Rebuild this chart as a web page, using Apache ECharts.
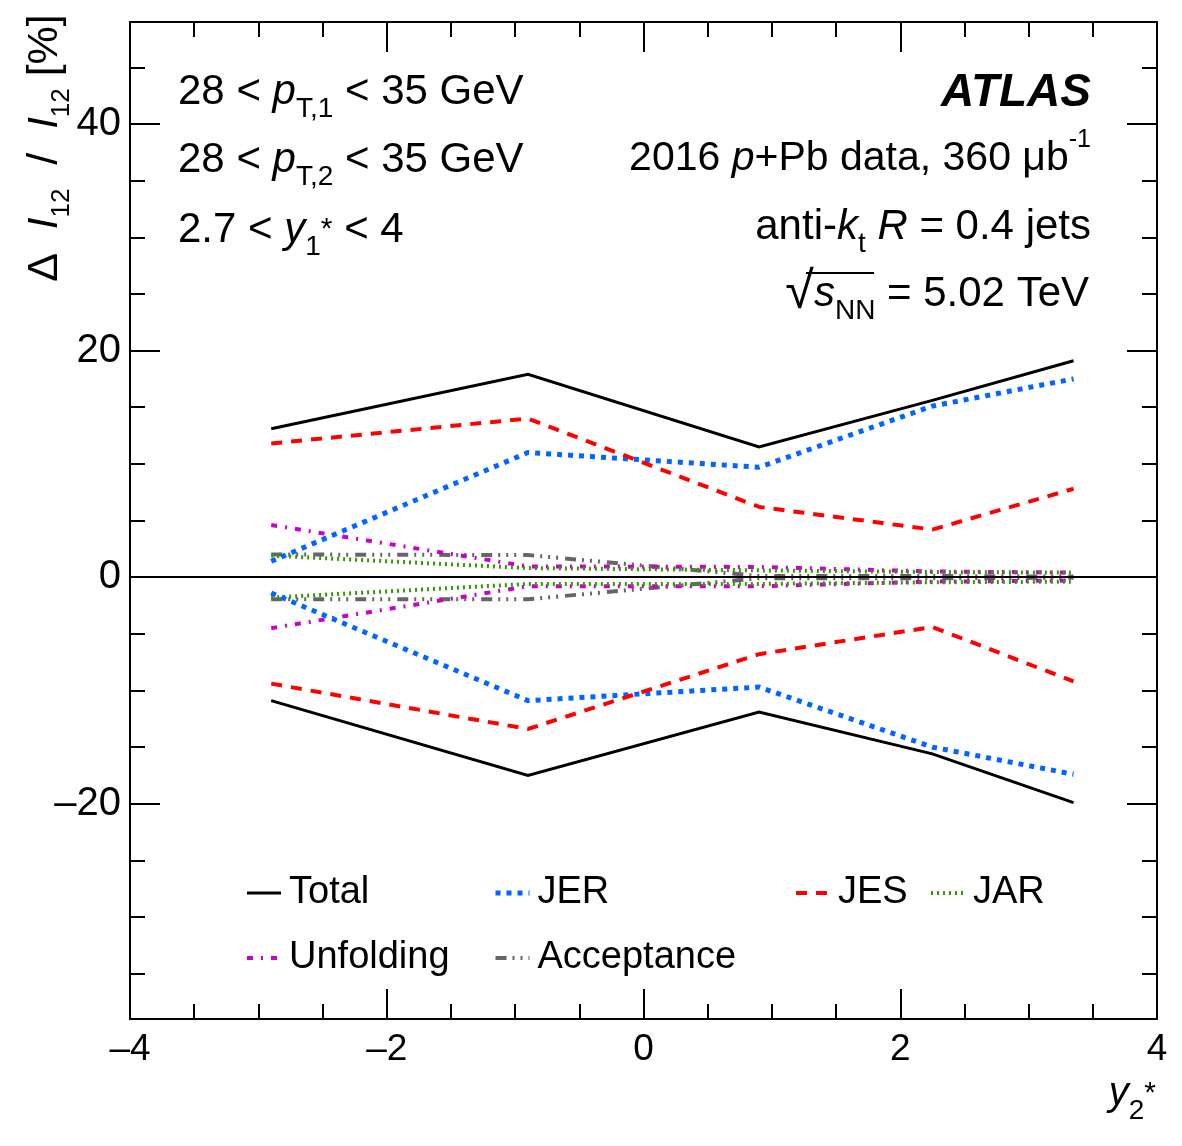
<!DOCTYPE html>
<html lang="en">
<head>
<meta charset="UTF-8">
<title>Delta I12 systematics</title>
<script src="https://cdn.jsdelivr.net/npm/echarts@6/dist/echarts.min.js"></script>
<style>
    html, body { margin: 0; padding: 0; background: #fff; }
    #chart { width: 1182px; height: 1146px; }
</style>
</head>
<body>
<div id="chart"></div>
<script>
    // y2* bin centres and relative uncertainties [%]
    var y2star = [-2.9, -0.9, 0.9, 2.25, 3.35];
    var totalUp = [13.1, 17.9, 11.5, 15.6, 19.1];
    var totalDn = [-10.9, -17.5, -11.9, -15.6, -19.9];
    var jerUp = [1.4, 11.0, 9.7, 15.1, 17.5];
    var jerDn = [-1.4, -10.9, -9.7, -15.0, -17.4];
    var jesUp = [11.8, 14.0, 6.2, 4.2, 7.8];
    var jesDn = [-9.4, -13.4, -6.8, -4.4, -9.2];
    var jarUp = [1.9, 0.8, 0.6, 0.45, 0.4];
    var jarDn = [-1.8, -0.6, -0.6, -0.45, -0.4];
    var unfUp = [4.6, 0.95, 0.9, 0.5, 0.4];
    var unfDn = [-4.5, -0.8, -0.8, -0.4, -0.3];
    var accUp = [2.0, 1.95, 0.1, 0.1, 0.05];
    var accDn = [-1.95, -1.95, -0.1, -0.1, -0.05];

    var FONT = "'Liberation Sans', Arial, Helvetica, sans-serif";
    var chart = echarts.init(document.getElementById('chart'));

    function pts(ys) {
        return y2star.map(function (x, i) { return [x, ys[i]]; });
    }
    function line(name, ys, color, width, dash, z) {
        return {
            name: name, type: 'line', data: pts(ys), color: color,
            symbol: 'none', showSymbol: false, silent: true, z: z,
            lineStyle: { color: color, width: width, type: dash, cap: 'butt', join: 'miter' }
        };
    }

    var ACC = [11, 6, 2, 6, 2, 6, 2, 7], UNF = [6, 8, 2, 8];
    var series = [
        line('Acceptance', accUp, '#666666', 4, ACC, 2),
        line('Acceptance', accDn, '#666666', 4, ACC, 2),
        line('Unfolding', unfUp, '#cc00cc', 4, UNF, 3),
        line('Unfolding', unfDn, '#cc00cc', 4, UNF, 3),
        line('JAR', jarUp, '#339900', 4, [2, 4], 4),
        line('JAR', jarDn, '#339900', 4, [2, 4], 4),
        line('JER', jerUp, '#0066ff', 5, [5, 6], 5),
        line('JER', jerDn, '#0066ff', 5, [5, 6], 5),
        line('JES', jesUp, '#ff0000', 4, [11, 9], 6),
        line('JES', jesDn, '#ff0000', 4, [11, 9], 6),
        line('Total', totalUp, '#000000', 3, 'solid', 7),
        line('Total', totalDn, '#000000', 3, 'solid', 7)
    ];
    // zero line
    series[0].markLine = {
        silent: true, symbol: ['none', 'none'], label: { show: false },
        lineStyle: { color: '#000', width: 2, type: 'solid' },
        data: [{ yAxis: 0 }]
    };

    function minus(v) { return String(v).replace('-', '\u2013'); }

    var tickStyle = { color: '#000', width: 2 };
    function xAx(pos) {
        return {
            type: 'value', min: -4, max: 4, interval: 2, position: pos,
            axisLine: { onZero: false, lineStyle: { color: '#000', width: 2 } },
            axisTick: { inside: true, length: 30, lineStyle: tickStyle },
            minorTick: { show: true, splitNumber: 4, length: 15, lineStyle: tickStyle },
            splitLine: { show: false }, minorSplitLine: { show: false },
            axisLabel: {
                show: pos === 'bottom', fontSize: 37, color: '#000', fontFamily: FONT,
                margin: 12, formatter: minus
            }
        };
    }
    function yAx(pos, major) {
        return {
            type: 'value', min: -39, max: 49, splitNumber: major ? 4 : 18, position: pos,
            axisLine: { show: major, onZero: false, lineStyle: { color: '#000', width: 2 } },
            axisTick: { inside: true, length: major ? 30 : 15, lineStyle: tickStyle },
            splitLine: { show: false },
            axisLabel: {
                show: major && pos === 'left', fontSize: 40, color: '#000', fontFamily: FONT,
                margin: 9, showMinLabel: false, showMaxLabel: false, formatter: minus
            }
        };
    }

    var S = { fontFamily: FONT, fill: '#000' };
    function st(o) { return Object.assign({}, S, o); }
    function txt(x, y, text, align, size, rich, extra) {
        return {
            type: 'text', x: x, y: y, silent: true, z: 20,
            style: Object.assign({
                text: text, fontSize: size, fontFamily: FONT, fill: '#000',
                lineHeight: 62, align: align, verticalAlign: 'top', rich: rich || {}
            }, extra || {})
        };
    }

    var richL = {
        i: st({ fontStyle: 'italic', fontSize: 42, lineHeight: 62 }),
        sub: st({ fontSize: 28, lineHeight: 8, verticalAlign: 'bottom' }),
        st: st({ fontSize: 30, lineHeight: 62 })
    };
    var richR = {
        i: st({ fontStyle: 'italic', fontSize: 42, lineHeight: 62 }),
        i41: st({ fontStyle: 'italic', fontSize: 41, lineHeight: 62 }),
        sup: st({ fontSize: 25, lineHeight: 46, verticalAlign: 'top' }),
        subk: st({ fontSize: 28, lineHeight: 30, verticalAlign: 'bottom' }),
        subn: st({ fontSize: 28, lineHeight: 32, verticalAlign: 'bottom' }),
        rt: st({ fontSize: 52, lineHeight: 62 })
    };
    var richX = {
        i: st({ fontStyle: 'italic', fontSize: 40, lineHeight: 62 }),
        sub: st({ fontSize: 28, lineHeight: 6, verticalAlign: 'bottom' }),
        st: st({ fontSize: 30, lineHeight: 62 })
    };
    var richY = {
        i: st({ fontStyle: 'italic', fontSize: 42, lineHeight: 60 }),
        sub: st({ fontSize: 26, lineHeight: 22, verticalAlign: 'bottom' })
    };

    function item(name, width) {
        return { name: name, lineStyle: { width: width }, itemStyle: { opacity: 0 } };
    }

    var option = {
        animation: false,
        backgroundColor: '#fff',
        grid: { left: 130, right: 25, top: 22, bottom: 127, containLabel: false, outerBoundsMode: 'none' },
        xAxis: [xAx('bottom'), xAx('top')],
        yAxis: [yAx('left', true), yAx('left', false), yAx('right', true), yAx('right', false)],
        legend: [
            { data: [item('Total', 3), item('Unfolding', 4)], left: 245 },
            { data: [item('JER', 5), item('Acceptance', 4)], left: 493 },
            { data: [item('JES', 4)], left: 794 },
            { data: [item('JAR', 4)], left: 929 }
        ].map(function (l) {
            return Object.assign({
                top: 873, orient: 'vertical', itemGap: 25, itemWidth: 34, itemHeight: 14,
                padding: 0, selectedMode: false,
                itemStyle: { opacity: 0, borderWidth: 0 },
                textStyle: { fontSize: 38, fontFamily: FONT, color: '#000', lineHeight: 40, padding: [0, 0, 0, 3] }
            }, l);
        }),
        graphic: [
            txt(178, 61, '28 < {i|p}{sub|T,1} < 35 GeV', 'left', 42, richL),
            txt(178, 129, '28 < {i|p}{sub|T,2} < 35 GeV', 'left', 42, richL),
            txt(178, 199, '2.7 < {i|y}{sub|1}{st|*} < 4', 'left', 42, richL),
            txt(1091, 62, 'ATLAS', 'right', 46, null, { fontWeight: 'bold', fontStyle: 'italic' }),
            txt(1091, 128, '2016 {i41|p}+Pb data, 360 \u03bcb{sup|-1}', 'right', 41, richR),
            txt(1091, 196, 'anti-{i|k}{subk|t} {i|R} = 0.4 jets', 'right', 42, richR),
            txt(1089, 263, '{rt|\u221a}{i|s}{subn|NN} = 5.02 TeV', 'right', 42, richR),
            {
                type: 'line', silent: true, z: 20,
                shape: { x1: 806, y1: 273, x2: 874, y2: 273 },
                style: { stroke: '#000', lineWidth: 2 }
            },
            txt(1156, 1063, '{i|y}{sub|2}{st|*}', 'right', 40, richX),
            {
                type: 'text', x: 45, y: 148, rotation: Math.PI / 2, silent: true, z: 20,
                style: {
                    text: '\u0394  {i|I}{sub|12}  /  {i|I}{sub|12} [%]', fontSize: 43, fontFamily: FONT,
                    fill: '#000', lineHeight: 60, align: 'center', verticalAlign: 'middle', rich: richY
                }
            }
        ],
        series: series
    };
    chart.setOption(option);
</script>
</body>
</html>
